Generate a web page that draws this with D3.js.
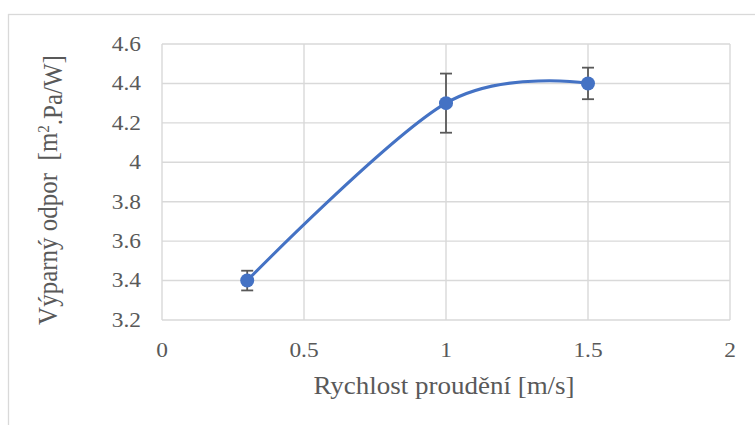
<!DOCTYPE html>
<html>
<head>
<meta charset="utf-8">
<script src="https://cdn.jsdelivr.net/npm/d3@7"></script>
<style>
  html, body { margin: 0; padding: 0; background: #fff; }
  svg { display: block; }
  text { font-family: "Liberation Serif", "Times New Roman", serif; fill: #595959; white-space: pre; }
</style>
</head>
<body>
<svg id="chart" width="755" height="425"></svg>
<script>
// Flow speed [m/s] vs. evaporative resistance, mean ± deviation
const speeds = [0.3, 1, 1.5];
const resistance = [3.4, 4.3, 4.4];
const deviation = [0.05, 0.15, 0.08];
const xTicks = [0, 0.5, 1, 1.5, 2];
const yTicks = [3.2, 3.4, 3.6, 3.8, 4.0, 4.2, 4.4, 4.6];
const xTickLabels = ["0", "0.5", "1", "1.5", "2"];
const yTickLabels = ["3.2", "3.4", "3.6", "3.8", "4", "4.2", "4.4", "4.6"];

const svg = d3.select("#chart");
const plot = { left: 162, right: 730, top: 44, bottom: 320 };
const stretch = 1.12; // horizontal widening of the serif labels

// outer chart frame (runs off the right and bottom edges)
svg.append("rect")
  .attr("x", 8.5).attr("y", 14.5)
  .attr("width", 800).attr("height", 500)
  .attr("fill", "#fff").attr("stroke", "#d9d9d9").attr("stroke-width", 1.3);

const x = d3.scaleLinear().domain([0, 2]).range([plot.left, plot.right]);
const y = d3.scaleLinear().domain([3.2, 4.6]).range([plot.bottom, plot.top]);

// gridlines
svg.append("g")
  .selectAll("line").data(yTicks).join("line")
  .attr("x1", plot.left).attr("x2", plot.right)
  .attr("y1", d => y(d)).attr("y2", d => y(d))
  .attr("stroke", "#d9d9d9").attr("stroke-width", 1.4);
svg.append("g")
  .selectAll("line").data(xTicks).join("line")
  .attr("y1", plot.top).attr("y2", plot.bottom)
  .attr("x1", d => x(d)).attr("x2", d => x(d))
  .attr("stroke", "#d9d9d9").attr("stroke-width", 1.4);

// tick labels
svg.append("g")
  .selectAll("g").data(yTicks).join("g")
  .attr("transform", d => `translate(141,${y(d)}) scale(${stretch + 0.05},1)`)
  .append("text")
  .attr("text-anchor", "end").attr("dy", "0.34em")
  .style("font-size", "20px")
  .text((d, i) => yTickLabels[i]);
svg.append("g")
  .selectAll("g").data(xTicks).join("g")
  .attr("transform", d => `translate(${x(d)},357) scale(${stretch + 0.05},1)`)
  .append("text")
  .attr("text-anchor", "middle")
  .style("font-size", "20px")
  .text((d, i) => xTickLabels[i]);

// axis titles
svg.append("g")
  .attr("transform", `translate(444,394) scale(${stretch - 0.04},1)`)
  .append("text")
  .attr("text-anchor", "middle")
  .style("font-size", "25px")
  .text("Rychlost proudění [m/s]");

const yTitle = svg.append("g")
  .attr("transform", `translate(57,190) scale(${stretch},1) rotate(-90)`)
  .append("text")
  .attr("text-anchor", "middle")
  .style("font-size", "25px");
yTitle.append("tspan").text("Výparný odpor  [m");
yTitle.append("tspan").attr("dy", "-0.45em").style("font-size", "15px").text("2");
yTitle.append("tspan").attr("dy", "0.45em").text(".Pa/W]");

// smoothed connecting line
const pts = speeds.map((s, i) => [s, resistance[i]]);
svg.append("path")
  .datum(pts)
  .attr("fill", "none")
  .attr("stroke", "#4472C4")
  .attr("stroke-width", 3)
  .attr("stroke-linecap", "round")
  .attr("d", d3.line().x(d => x(d[0])).y(d => y(d[1])).curve(d3.curveCardinal.tension(0)));

// error bars
const eb = svg.append("g").attr("stroke", "#595959").attr("stroke-width", 1.8);
speeds.forEach((s, i) => {
  const cx = x(s), hi = y(resistance[i] + deviation[i]), lo = y(resistance[i] - deviation[i]);
  eb.append("line").attr("x1", cx).attr("x2", cx).attr("y1", hi).attr("y2", lo);
  eb.append("line").attr("x1", cx - 6).attr("x2", cx + 6).attr("y1", hi).attr("y2", hi);
  eb.append("line").attr("x1", cx - 6).attr("x2", cx + 6).attr("y1", lo).attr("y2", lo);
});

// markers
svg.append("g")
  .selectAll("circle").data(pts).join("circle")
  .attr("cx", d => x(d[0])).attr("cy", d => y(d[1]))
  .attr("r", 7).attr("fill", "#4472C4");
</script>
</body>
</html>
